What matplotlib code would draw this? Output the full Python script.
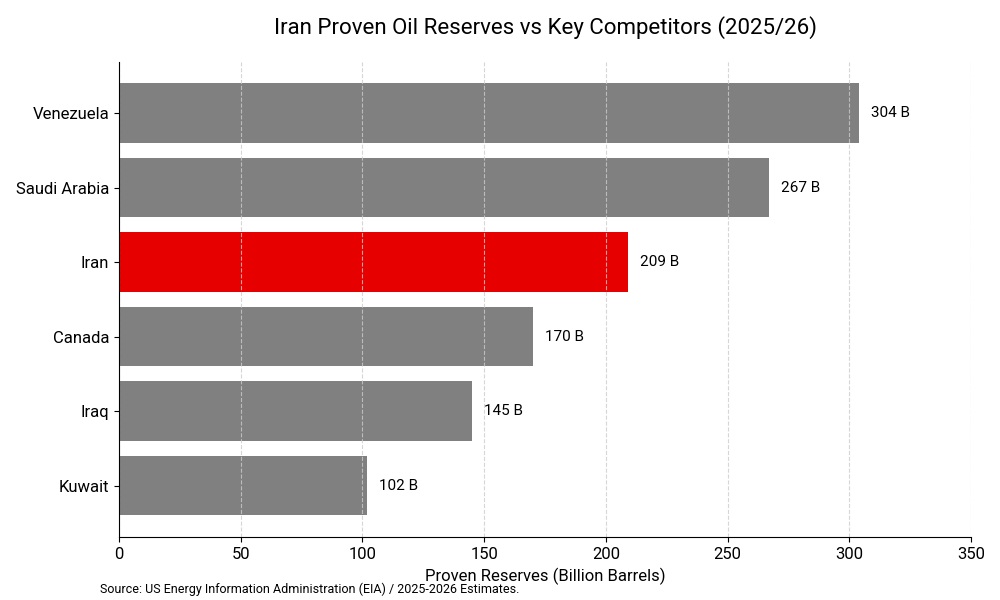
import matplotlib
matplotlib.use("Agg")
import matplotlib.pyplot as plt

plt.rcParams['font.family'] = ['Roboto', 'DejaVu Sans']

# Data
countries = ['Venezuela', 'Saudi Arabia', 'Iran', 'Canada', 'Iraq', 'Kuwait']
reserves = [304, 267, 209, 170, 145, 102]
colors = ['#808080', '#808080', '#e60000', '#808080', '#808080', '#808080']

fig = plt.figure(figsize=(10, 6), dpi=100)
ax = fig.add_axes([0.119, 0.105, 0.852, 0.792])

ypos = list(range(len(countries)))
bars = ax.barh(ypos, reserves, height=0.8, color=colors, zorder=2)
ax.invert_yaxis()
ax.set_yticks(ypos)
ax.set_yticklabels(countries, fontsize=12)

for b, v in zip(bars, reserves):
    ax.text(b.get_width() + 5, b.get_y() + b.get_height() / 2, f'{v} B',
            va='center', ha='left', fontsize=11)

ax.set_xlim(0, 350)
ax.set_xticks(range(0, 351, 50))
ax.tick_params(axis='x', labelsize=12)
ax.xaxis.grid(True, linestyle='--', color='#cccccc', alpha=0.8, zorder=3)
ax.set_axisbelow(False)
ax.spines['top'].set_visible(False)
ax.spines['right'].set_visible(False)
for s in ('left', 'bottom'):
    ax.spines[s].set_zorder(5)

ax.set_xlabel('Proven Reserves (Billion Barrels)', fontsize=12, labelpad=4)
ax.set_title('Iran Proven Oil Reserves vs Key Competitors (2025/26)',
             fontsize=16, pad=20)
fig.text(0.1, 0.012, 'Source: US Energy Information Administration (EIA) / 2025-2026 Estimates.',
         fontsize=9, ha='left')

fig.savefig('out.png', dpi=100)
